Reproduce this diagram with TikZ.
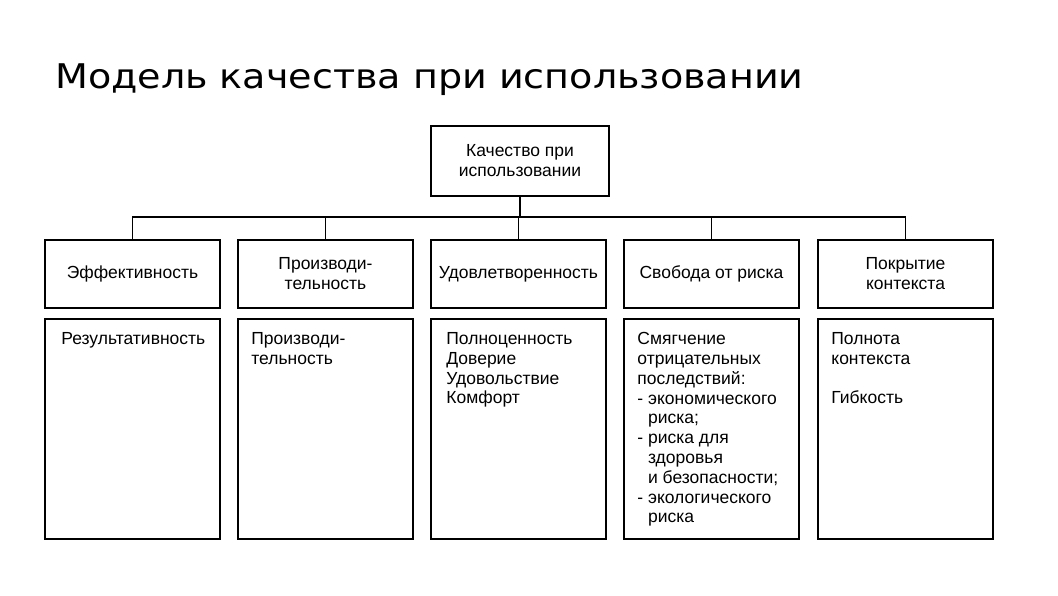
\documentclass[tikz,border=0pt]{standalone}
\usepackage{fontspec}
\setmainfont{Liberation Sans}
\newfontfamily\titlefont[FakeStretch=1.12]{DejaVu Sans}
\usetikzlibrary{calc}
\tikzset{
  box/.style={draw, line width=1.6pt, minimum width=175pt, inner sep=0pt},
  headbox/.style={box, minimum height=68pt, align=center, font=\fontsize{17.5}{20}\selectfont},
  bodybox/.style={box, minimum height=220pt},
  bodytext/.style={anchor=north west, align=left, inner sep=0pt, font=\fontsize{17.5}{19.8}\selectfont},
  link/.style={line width=1.6pt}
}
\begin{document}
\begin{tikzpicture}[x=1pt,y=-1pt]
\useasboundingbox (0,0) rectangle (1058,595);
\node[anchor=base west, inner sep=0pt, font=\titlefont\fontsize{34}{40}\selectfont] (title) at (55,88) {Модель качества при использовании};

\node[box, minimum width=178pt, minimum height=70pt, align=center, font=\fontsize{17.5}{20}\selectfont] (top) at (520,161) {Качество при\\использовании};

\node[headbox] (h1) at (132.5,274) {Эффективность};
\node[headbox] (h2) at (325.5,274) {Производи-\\тельность};
\node[headbox] (h3) at (518.5,274) {Удовлетворенность};
\node[headbox] (h4) at (711.5,274) {Свобода от риска};
\node[headbox] (h5) at (905.5,274) {Покрытие\\контекста};

\node[bodybox] (d1) at (132.5,429) {};
\node[bodybox] (d2) at (325.5,429) {};
\node[bodybox] (d3) at (518.5,429) {};
\node[bodybox] (d4) at (711.5,429) {};
\node[bodybox] (d5) at (905.5,429) {};

\node[bodytext] (t1) at ($(d1.north west)+(17,14)$) {Результативность};
\node[bodytext] (t2) at ($(d2.north west)+(14,14)$) {Производи-\\тельность};
\node[bodytext] (t3) at ($(d3.north west)+(16,14)$) {Полноценность\\Доверие\\Удовольствие\\Комфорт};
\node[bodytext] (t4) at ($(d4.north west)+(14,14)$) {Смягчение\\отрицательных\\последствий:\\- экономического\\\phantom{- }риска;\\- риска для\\\phantom{- }здоровья\\\phantom{- }и безопасности;\\- экологического\\\phantom{- }риска};
\node[bodytext] (t5) at ($(d5.north west)+(14,14)$) {Полнота\\контекста\\[19.8pt]Гибкость};

\coordinate (bus) at (0,217);
\draw[link] (top.south) -- (top.south |- bus);
\draw[link] (h1.north) |- (bus -| h5.north) -- (h5.north);
\draw[link] (h2.north) -- (h2.north |- bus);
\draw[link] (h3.north) -- (h3.north |- bus);
\draw[link] (h4.north) -- (h4.north |- bus);
\end{tikzpicture}
\end{document}
